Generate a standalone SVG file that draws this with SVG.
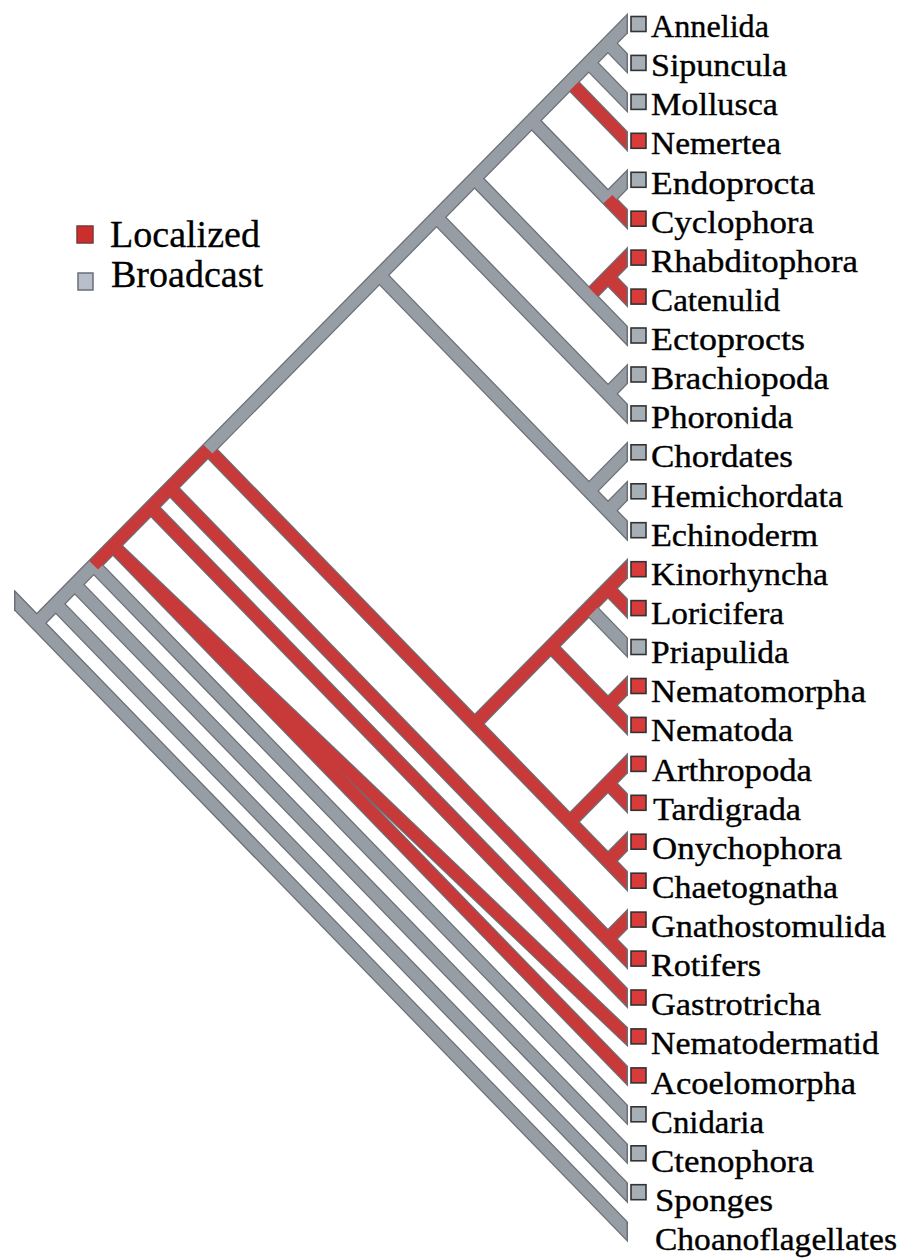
<svg xmlns="http://www.w3.org/2000/svg" width="901" height="1258" viewBox="0 0 901 1258">
<style>
.lbl{font-family:"Liberation Serif","Times New Roman",serif;font-size:31px;fill:#000;stroke:#000;stroke-width:0.35}
.leg{font-family:"Liberation Serif","Times New Roman",serif;font-size:37px;fill:#000;stroke:#000;stroke-width:0.3}
.o line{stroke:#6b7077;stroke-width:14.5;stroke-linecap:butt}
.f line{stroke-width:12;stroke-linecap:butt}
.f .g{stroke:#979da5}
.f .r{stroke:#c8393a}
.sq{stroke:#333;stroke-width:1.6}
.sg{fill:#a6aeb6}
.sr{fill:#d93a3a}
</style>
<defs>
<clipPath id="co"><rect x="14" y="0" width="614" height="1258"/></clipPath>
<clipPath id="cf"><rect x="15.5" y="0" width="611" height="1258"/></clipPath>
</defs>
<rect width="901" height="1258" fill="#fff"/>
<g id="connectors">
<g class="o" clip-path="url(#co)">
<line x1="36.7" y1="623.1" x2="640" y2="10.8"/>
<line x1="5" y1="590.5" x2="640" y2="1244.5"/>
<line x1="55.7" y1="603.8" x2="640" y2="1205.6"/>
<line x1="74.8" y1="584.5" x2="640" y2="1166.7"/>
<line x1="93.8" y1="565.2" x2="640" y2="1127.7"/>
<line x1="112.9" y1="545.8" x2="640" y2="1048.8"/>
<line x1="112.9" y1="545.8" x2="640" y2="1088.8"/>
<line x1="150.9" y1="507.2" x2="640" y2="1010.9"/>
<line x1="170.0" y1="487.8" x2="640" y2="972.0"/>
<line x1="608" y1="938.9" x2="640" y2="906.4"/>
<line x1="208.1" y1="449.2" x2="640" y2="894.1"/>
<line x1="474.7" y1="723.8" x2="640" y2="556.0"/>
<line x1="608" y1="588.5" x2="640" y2="621.5"/>
<line x1="588.9" y1="607.8" x2="640" y2="660.4"/>
<line x1="550.8" y1="646.5" x2="640" y2="738.3"/>
<line x1="608" y1="705.3" x2="640" y2="672.8"/>
<line x1="569.9" y1="821.8" x2="640" y2="750.7"/>
<line x1="608" y1="783.2" x2="640" y2="816.2"/>
<line x1="608" y1="861.1" x2="640" y2="828.5"/>
<line x1="379.5" y1="275.3" x2="640" y2="543.6"/>
<line x1="588.9" y1="491.0" x2="640" y2="439.1"/>
<line x1="608" y1="510.6" x2="640" y2="478.1"/>
<line x1="436.6" y1="217.3" x2="640" y2="426.8"/>
<line x1="608" y1="393.8" x2="640" y2="361.3"/>
<line x1="474.7" y1="178.6" x2="640" y2="348.9"/>
<line x1="588.9" y1="296.3" x2="640" y2="244.4"/>
<line x1="608" y1="277.0" x2="640" y2="310.0"/>
<line x1="531.8" y1="120.6" x2="640" y2="232.1"/>
<line x1="608" y1="199.1" x2="640" y2="166.6"/>
<line x1="569.9" y1="82.0" x2="640" y2="154.2"/>
<line x1="588.9" y1="62.7" x2="640" y2="115.3"/>
<line x1="608" y1="43.3" x2="640" y2="76.3"/>
</g>
<g class="f" clip-path="url(#cf)">
<line class="g" x1="93.8" y1="565.2" x2="640" y2="1127.7"/>
<line class="r" x1="208.1" y1="449.2" x2="640" y2="894.1"/>
<line class="g" x1="588.9" y1="607.8" x2="640" y2="660.4"/>
<line class="r" x1="588.9" y1="296.3" x2="640" y2="244.4"/>
<line class="g" x1="608" y1="199.1" x2="640" y2="166.6"/>
<line class="r" x1="569.9" y1="82.0" x2="640" y2="154.2"/>
<line class="g" x1="36.7" y1="623.1" x2="93.8" y2="565.2"/>
<line class="r" x1="93.8" y1="565.2" x2="208.1" y2="449.2"/>
<line class="g" x1="208.1" y1="449.2" x2="640" y2="10.8"/>
<line class="g" x1="5" y1="590.5" x2="640" y2="1244.5"/>
<line class="g" x1="55.7" y1="603.8" x2="640" y2="1205.6"/>
<line class="g" x1="74.8" y1="584.5" x2="640" y2="1166.7"/>
<line class="r" x1="112.9" y1="545.8" x2="640" y2="1048.8"/>
<line class="r" x1="112.9" y1="545.8" x2="640" y2="1088.8"/>
<line class="r" x1="150.9" y1="507.2" x2="640" y2="1010.9"/>
<line class="r" x1="170.0" y1="487.8" x2="640" y2="972.0"/>
<line class="r" x1="608" y1="938.9" x2="640" y2="906.4"/>
<line class="r" x1="474.7" y1="723.8" x2="640" y2="556.0"/>
<line class="r" x1="608" y1="588.5" x2="640" y2="621.5"/>
<line class="r" x1="550.8" y1="646.5" x2="640" y2="738.3"/>
<line class="r" x1="608" y1="705.3" x2="640" y2="672.8"/>
<line class="r" x1="569.9" y1="821.8" x2="640" y2="750.7"/>
<line class="r" x1="608" y1="783.2" x2="640" y2="816.2"/>
<line class="r" x1="608" y1="861.1" x2="640" y2="828.5"/>
<line class="g" x1="379.5" y1="275.3" x2="640" y2="543.6"/>
<line class="g" x1="588.9" y1="491.0" x2="640" y2="439.1"/>
<line class="g" x1="608" y1="510.6" x2="640" y2="478.1"/>
<line class="g" x1="436.6" y1="217.3" x2="640" y2="426.8"/>
<line class="g" x1="608" y1="393.8" x2="640" y2="361.3"/>
<line class="g" x1="474.7" y1="178.6" x2="640" y2="348.9"/>
<line class="r" x1="608" y1="277.0" x2="640" y2="310.0"/>
<line class="g" x1="531.8" y1="120.6" x2="608" y2="199.1"/>
<line class="r" x1="608" y1="199.1" x2="640" y2="232.1"/>
<line class="g" x1="588.9" y1="62.7" x2="640" y2="115.3"/>
<line class="g" x1="608" y1="43.3" x2="640" y2="76.3"/>
</g>
</g>
<g id="legend">
<rect x="77" y="226" width="16" height="17" fill="#cc2e2e" stroke="#7a3a3a" stroke-width="1.5"/>
<text class="leg" x="110" y="247" textLength="150" lengthAdjust="spacingAndGlyphs">Localized</text>
<rect x="78" y="273" width="15" height="17" fill="#b9bfca" stroke="#6a6e78" stroke-width="1.5"/>
<text class="leg" x="111" y="287" textLength="152" lengthAdjust="spacingAndGlyphs">Broadcast</text>
</g>
<g id="Annelida"><rect class="sq sg" x="631" y="16.5" width="15" height="15"/><text class="lbl" x="651" y="37.0" textLength="118" lengthAdjust="spacingAndGlyphs">Annelida</text></g>
<g id="Sipuncula"><rect class="sq sg" x="631" y="55.4" width="15" height="15"/><text class="lbl" x="651" y="76.1" textLength="136" lengthAdjust="spacingAndGlyphs">Sipuncula</text></g>
<g id="Mollusca"><rect class="sq sg" x="631" y="94.4" width="15" height="15"/><text class="lbl" x="651" y="115.3" textLength="127" lengthAdjust="spacingAndGlyphs">Mollusca</text></g>
<g id="Nemertea"><rect class="sq sr" x="631" y="133.3" width="15" height="15"/><text class="lbl" x="651" y="154.4" textLength="130" lengthAdjust="spacingAndGlyphs">Nemertea</text></g>
<g id="Endoprocta"><rect class="sq sg" x="631" y="172.3" width="15" height="15"/><text class="lbl" x="651" y="193.5" textLength="164" lengthAdjust="spacingAndGlyphs">Endoprocta</text></g>
<g id="Cyclophora"><rect class="sq sr" x="631" y="211.2" width="15" height="15"/><text class="lbl" x="651" y="232.7" textLength="163" lengthAdjust="spacingAndGlyphs">Cyclophora</text></g>
<g id="Rhabditophora"><rect class="sq sr" x="631" y="250.1" width="15" height="15"/><text class="lbl" x="651" y="271.8" textLength="207" lengthAdjust="spacingAndGlyphs">Rhabditophora</text></g>
<g id="Catenulid"><rect class="sq sr" x="631" y="289.1" width="15" height="15"/><text class="lbl" x="651" y="310.9" textLength="129" lengthAdjust="spacingAndGlyphs">Catenulid</text></g>
<g id="Ectoprocts"><rect class="sq sg" x="631" y="328.0" width="15" height="15"/><text class="lbl" x="651" y="350.0" textLength="154" lengthAdjust="spacingAndGlyphs">Ectoprocts</text></g>
<g id="Brachiopoda"><rect class="sq sg" x="631" y="367.0" width="15" height="15"/><text class="lbl" x="651" y="389.2" textLength="178" lengthAdjust="spacingAndGlyphs">Brachiopoda</text></g>
<g id="Phoronida"><rect class="sq sg" x="631" y="405.9" width="15" height="15"/><text class="lbl" x="651" y="428.3" textLength="142" lengthAdjust="spacingAndGlyphs">Phoronida</text></g>
<g id="Chordates"><rect class="sq sg" x="631" y="444.8" width="15" height="15"/><text class="lbl" x="651" y="467.4" textLength="142" lengthAdjust="spacingAndGlyphs">Chordates</text></g>
<g id="Hemichordata"><rect class="sq sg" x="631" y="483.8" width="15" height="15"/><text class="lbl" x="651" y="506.6" textLength="192" lengthAdjust="spacingAndGlyphs">Hemichordata</text></g>
<g id="Echinoderm"><rect class="sq sg" x="631" y="522.7" width="15" height="15"/><text class="lbl" x="651" y="545.7" textLength="167" lengthAdjust="spacingAndGlyphs">Echinoderm</text></g>
<g id="Kinorhyncha"><rect class="sq sr" x="631" y="561.7" width="15" height="15"/><text class="lbl" x="651" y="584.8" textLength="177" lengthAdjust="spacingAndGlyphs">Kinorhyncha</text></g>
<g id="Loricifera"><rect class="sq sr" x="631" y="600.6" width="15" height="15"/><text class="lbl" x="651" y="624.0" textLength="133" lengthAdjust="spacingAndGlyphs">Loricifera</text></g>
<g id="Priapulida"><rect class="sq sg" x="631" y="639.5" width="15" height="15"/><text class="lbl" x="651" y="663.1" textLength="138" lengthAdjust="spacingAndGlyphs">Priapulida</text></g>
<g id="Nematomorpha"><rect class="sq sr" x="631" y="678.5" width="15" height="15"/><text class="lbl" x="651" y="702.2" textLength="215" lengthAdjust="spacingAndGlyphs">Nematomorpha</text></g>
<g id="Nematoda"><rect class="sq sr" x="631" y="717.4" width="15" height="15"/><text class="lbl" x="651" y="741.3" textLength="142" lengthAdjust="spacingAndGlyphs">Nematoda</text></g>
<g id="Arthropoda"><rect class="sq sr" x="631" y="756.4" width="15" height="15"/><text class="lbl" x="652" y="780.5" textLength="160" lengthAdjust="spacingAndGlyphs">Arthropoda</text></g>
<g id="Tardigrada"><rect class="sq sr" x="631" y="795.3" width="15" height="15"/><text class="lbl" x="653" y="819.6" textLength="148" lengthAdjust="spacingAndGlyphs">Tardigrada</text></g>
<g id="Onychophora"><rect class="sq sr" x="631" y="834.2" width="15" height="15"/><text class="lbl" x="652" y="858.7" textLength="190" lengthAdjust="spacingAndGlyphs">Onychophora</text></g>
<g id="Chaetognatha"><rect class="sq sr" x="631" y="873.2" width="15" height="15"/><text class="lbl" x="652" y="897.9" textLength="186" lengthAdjust="spacingAndGlyphs">Chaetognatha</text></g>
<g id="Gnathostomulida"><rect class="sq sr" x="631" y="912.1" width="15" height="15"/><text class="lbl" x="651" y="937.0" textLength="235" lengthAdjust="spacingAndGlyphs">Gnathostomulida</text></g>
<g id="Rotifers"><rect class="sq sr" x="631" y="951.1" width="15" height="15"/><text class="lbl" x="651" y="976.1" textLength="110" lengthAdjust="spacingAndGlyphs">Rotifers</text></g>
<g id="Gastrotricha"><rect class="sq sr" x="631" y="990.0" width="15" height="15"/><text class="lbl" x="651" y="1015.3" textLength="170" lengthAdjust="spacingAndGlyphs">Gastrotricha</text></g>
<g id="Nematodermatid"><rect class="sq sr" x="631" y="1028.9" width="15" height="15"/><text class="lbl" x="651" y="1054.4" textLength="228" lengthAdjust="spacingAndGlyphs">Nematodermatid</text></g>
<g id="Acoelomorpha"><rect class="sq sr" x="631" y="1067.9" width="15" height="15"/><text class="lbl" x="651" y="1093.5" textLength="205" lengthAdjust="spacingAndGlyphs">Acoelomorpha</text></g>
<g id="Cnidaria"><rect class="sq sg" x="631" y="1106.8" width="15" height="15"/><text class="lbl" x="651" y="1132.6" textLength="113" lengthAdjust="spacingAndGlyphs">Cnidaria</text></g>
<g id="Ctenophora"><rect class="sq sg" x="631" y="1145.8" width="15" height="15"/><text class="lbl" x="651" y="1171.8" textLength="163" lengthAdjust="spacingAndGlyphs">Ctenophora</text></g>
<g id="Sponges"><rect class="sq sg" x="631" y="1184.7" width="15" height="15"/><text class="lbl" x="655" y="1210.9" textLength="118" lengthAdjust="spacingAndGlyphs">Sponges</text></g>
<g id="Choanoflagellates"><text class="lbl" x="655" y="1250.0" textLength="242" lengthAdjust="spacingAndGlyphs">Choanoflagellates</text></g>
</svg>
